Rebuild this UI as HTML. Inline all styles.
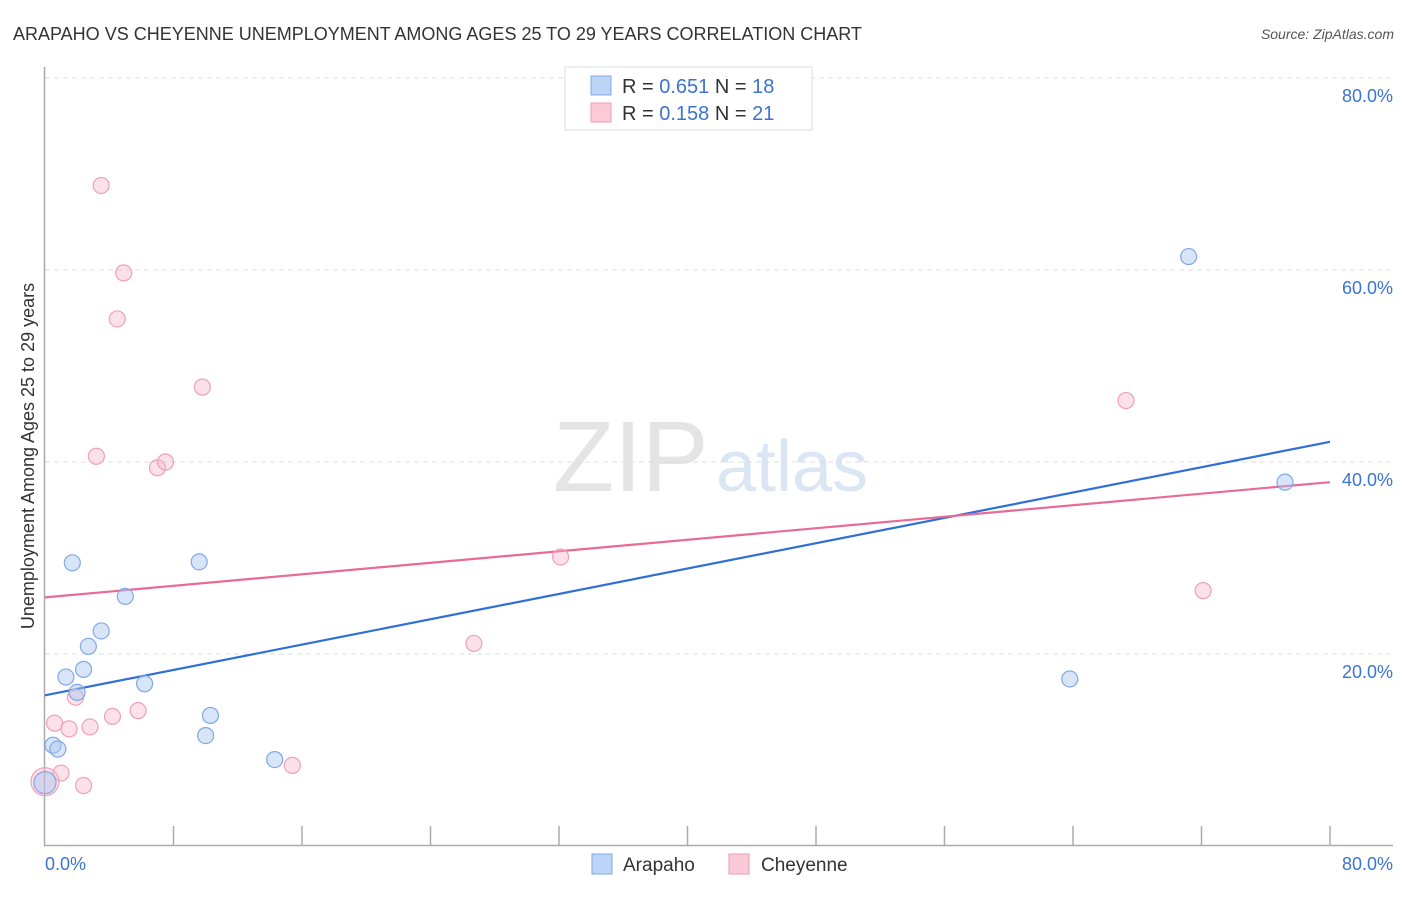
<!DOCTYPE html>
<html><head><meta charset="utf-8"><style>
body{margin:0;background:#fff;font-family:"Liberation Sans",sans-serif}
svg text{font-family:"Liberation Sans",sans-serif}
</style></head><body>
<svg id="chart" width="1406" height="892" viewBox="0 0 1406 892" xmlns="http://www.w3.org/2000/svg">
<text x="13" y="40" font-size="18" fill="#333">ARAPAHO VS CHEYENNE UNEMPLOYMENT AMONG AGES 25 TO 29 YEARS CORRELATION CHART</text>
<text x="1394" y="39" font-size="14" fill="#555" font-style="italic" text-anchor="end">Source: ZipAtlas.com</text>
<text x="553" y="491" font-size="100" fill="#e4e4e4" font-family="Liberation Serif,serif">ZIP</text>
<text x="716" y="491" font-size="72" fill="#dbe6f5">atlas</text>
<g id="grid"></g>
<g id="axes"></g>
<g id="lines"></g>
<g id="points"></g>
<text transform="translate(34,456) rotate(-90)" font-size="18" fill="#333" text-anchor="middle">Unemployment Among Ages 25 to 29 years</text>
<text x="45" y="870" font-size="18" fill="#3b73d1">0.0%</text>
<text x="1393" y="870" font-size="18" fill="#3b73d1" text-anchor="end">80.0%</text>
<g>
<rect x="565" y="67" width="247" height="63" fill="#fff" stroke="#ddd"/>
<rect x="591" y="76" width="20" height="19" fill="#bcd4f5" stroke="#7fa8e6"/>
<rect x="591" y="103" width="20" height="19" fill="#fbc9d7" stroke="#ee9ab3"/>
<text x="622" y="93" font-size="20" fill="#333">R = <tspan fill="#3b73d1">0.651</tspan>   N = <tspan fill="#3b73d1">18</tspan></text>
<text x="622" y="120" font-size="20" fill="#333">R = <tspan fill="#3b73d1">0.158</tspan>   N = <tspan fill="#3b73d1">21</tspan></text>
</g>
<g>
<rect x="592" y="854" width="20" height="20" fill="#bcd4f5" stroke="#7fa8e6"/>
<text x="623" y="871" font-size="19" fill="#333">Arapaho</text>
<rect x="729" y="854" width="20" height="20" fill="#fbc9d7" stroke="#ee9ab3"/>
<text x="761" y="871" font-size="19" fill="#333">Cheyenne</text>
</g>
</svg>
<script>
const yTicks=[20,40,60,80];
const yTickLabels=["20.0%","40.0%","60.0%","80.0%"];
const arapahoX=[0,0.5,0.8,1.3,1.7,2.0,2.4,2.7,3.5,5.0,6.2,9.6,10.0,10.3,14.3,63.8,71.2,77.2];
const arapahoY=[6.6,10.5,10.1,17.6,29.5,16.0,18.4,20.8,22.4,26.0,16.9,29.6,11.5,13.6,9.0,17.4,61.4,37.9];
const cheyenneX=[0,0.6,1.0,1.5,1.9,2.4,2.8,3.2,3.5,4.2,4.5,4.9,5.8,7.0,7.5,9.8,15.4,26.7,32.1,67.3,72.1];
const cheyenneY=[6.7,12.8,7.6,12.2,15.5,6.3,12.4,40.6,68.8,13.5,54.9,59.7,14.1,39.4,40.0,47.8,8.4,21.1,30.1,46.4,26.6];
const arapahoTrend=[15.7,42.1];
const cheyenneTrend=[25.9,37.9];
const NS="http://www.w3.org/2000/svg";
const X=v=>45+v*(1285/80);
const Y=v=>846-v*9.6;
function mk(tag,attrs,parent){const e=document.createElementNS(NS,tag);for(const k in attrs)e.setAttribute(k,attrs[k]);document.getElementById(parent).appendChild(e);return e;}
yTicks.forEach((t,i)=>{
  const g=mk('line',{x1:45,x2:1393,y1:Y(t),y2:Y(t),stroke:'#ddd','stroke-dasharray':'5,4'},'grid');
  
  
  const tx=mk('text',{x:1393,y:Y(t)+24,'font-size':18,fill:'#3b73d1','text-anchor':'end'},'grid');
  tx.textContent=yTickLabels[i];
  
  
});
const ax=mk('line',{x1:44.5,x2:44.5,y1:67,y2:846,stroke:'#aaa','stroke-width':1.5},'axes');


const bx=mk('line',{x1:44,x2:1393,y1:845.5,y2:845.5,stroke:'#aaa','stroke-width':1.5},'axes');


for(let i=1;i<=10;i++){
  const t=mk('line',{x1:X(i*8),x2:X(i*8),y1:826,y2:846,stroke:'#aaa','stroke-width':1.5},'axes');
  
  
}
const bl=mk('line',{x1:X(0),y1:Y(arapahoTrend[0]),x2:X(80),y2:Y(arapahoTrend[1]),stroke:'#2f6fd6','stroke-width':2.2},'lines');


const pl=mk('line',{x1:X(0),y1:Y(cheyenneTrend[0]),x2:X(80),y2:Y(cheyenneTrend[1]),stroke:'#e86a97','stroke-width':2.2},'lines');


cheyenneX.forEach((x,i)=>{
  const c=mk('circle',{cx:X(x),cy:Y(cheyenneY[i]),r:i===0?14:8,fill:'rgba(248,180,200,0.4)',stroke:'#efa0b8','stroke-width':1.2},'points');
  
  
});
arapahoX.forEach((x,i)=>{
  const c=mk('circle',{cx:X(x),cy:Y(arapahoY[i]),r:i===0?11:8,fill:'rgba(168,198,240,0.45)',stroke:'#7fa8e6','stroke-width':1.2},'points');
  
  
});
</script>
</body></html>
